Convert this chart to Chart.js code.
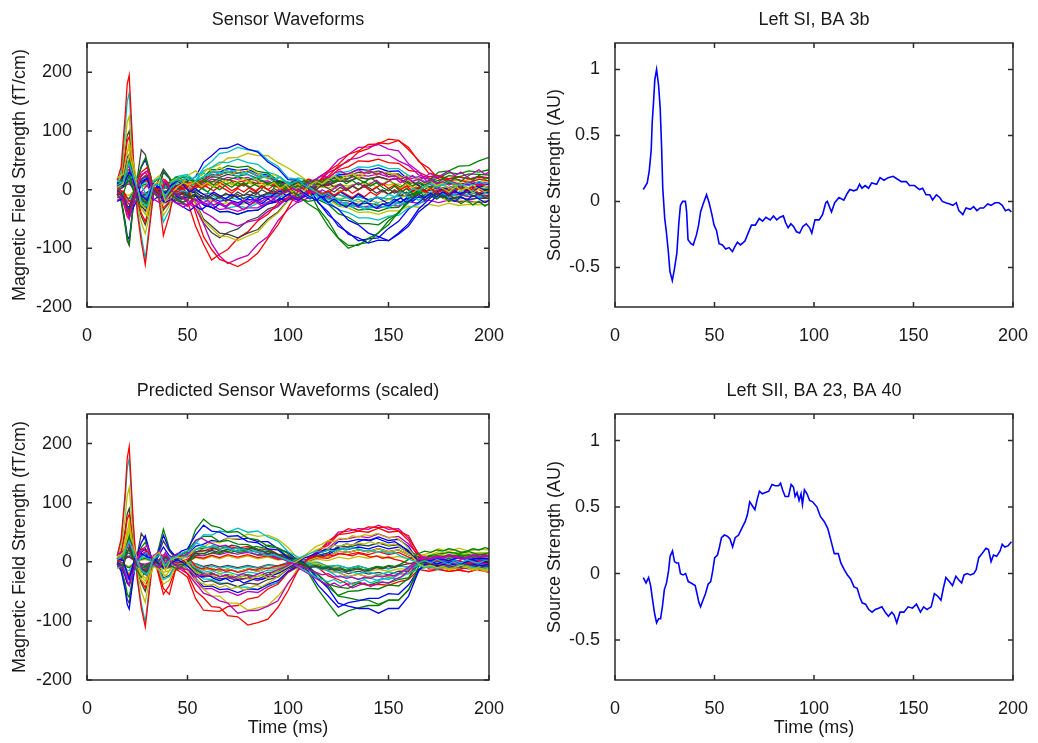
<!DOCTYPE html>
<html>
<head>
<meta charset="utf-8">
<script src="https://cdn.jsdelivr.net/npm/chart.js@4.4.1/dist/chart.umd.min.js"></script>
<style>
  body { margin: 0; background: #fff; }
  #page { position: relative; width: 1038px; height: 743px; }
  canvas { position: absolute; }
</style>
</head>
<body>
<div id="page">
  <canvas id="sensors" width="519" height="365" style="left:0;top:0"></canvas>
  <canvas id="sourceSI" width="519" height="365" style="left:519px;top:0"></canvas>
  <canvas id="predicted" width="519" height="378" style="left:0;top:365px"></canvas>
  <canvas id="sourceSII" width="519" height="378" style="left:519px;top:365px"></canvas>
</div>
<script>
// tick labels
const xTickValues = [0, 50, 100, 150, 200];
const fieldTicks = [-200, -100, 0, 100, 200];
const sourceTicks = [-0.5, 0, 0.5, 1];

// matlab line colour order
const lineColors = ['#0000ff', '#008000', '#ff0000', '#00bfbf', '#bf00bf', '#bfbf00', '#404040'];

// sample times (ms) for the large sensor traces
const sensorTimes = [15,17,19,20,21,23,25,27,29,31,33,35,38,41,44,47,50,54,58,62,66,70,75,80,85,90,95,100,105,110,115,120,125,130,135,140,145,150,155,160,165,170,175,180,185,190,195,200];
// sample times (ms) for the low-amplitude sensors in the central band
const bandTimes = [15,18,21,24,27,30,33,36,39,42,45,48,51,54,57,60,63,66,69,72,75,78,81,84,87,90,93,96,99,102,105,108,111,114,117,120,123,126,129,132,135,138,141,144,147,150,153,156,159,162,165,168,171,174,177,180,183,186,189,192,195,198,200];

// measured sensor waveforms (fT/cm)
const measuredWaves = [
  [5,12,39,55,60,18,-12,-27,-36,-21,-3,6,-21,-13,6,10,14,22,47,58,70,71,78,69,64,47,36,17,16,4,-21,-43,-57,-76,-82,-91,-86,-87,-74,-58,-33,-17,-1,3,10,8,12,9],
  [-7,-18,-58,-83,-92,-27,18,40,54,31,5,-8,31,20,-8,-14,-8,6,14,13,20,16,22,17,18,11,11,3,-10,-24,-35,-62,-83,-100,-93,-90,-73,-60,-38,-22,2,16,30,32,40,41,49,55],
  [16,39,127,180,195,58,-39,-88,-128,-68,-10,10,-78,-43,10,18,4,-39,-80,-102,-119,-124,-131,-122,-108,-83,-60,-31,-2,18,13,32,43,60,66,77,78,86,84,72,48,37,18,16,8,13,6,10],
  [12,30,105,150,165,50,-32,-78,-118,-60,-8,-4,-55,-35,-6,-2,-4,15,37,48,62,64,72,68,66,50,40,20,18,6,-6,-16,-18,-27,-26,-32,-28,-30,-23,-22,-12,-10,-2,-4,2,-3,4,0],
  [3,8,26,37,40,12,-8,-18,-24,-14,-2,-10,-14,-9,-8,-12,-22,-32,-58,-92,-113,-126,-118,-112,-93,-80,-53,-34,-20,-8,21,32,51,60,72,73,77,69,66,44,31,10,2,-8,-7,-12,-10,-10],
  [10,25,81,115,125,37,-25,-56,-75,-44,-6,8,-44,-27,10,16,8,-24,-53,-66,-79,-80,-87,-79,-72,-53,-40,-19,4,16,6,16,18,27,26,32,28,30,23,16,2,-8,-11,-20,-17,-22,-20,-18],
  [-8,-19,-62,-87,-95,-28,19,68,60,33,5,12,35,21,4,0,10,-22,-50,-62,-74,-76,-82,-74,-68,-50,-38,-18,-14,-4,7,8,15,14,21,18,22,17,19,11,11,3,4,-1,2,-2,3,0],
  [-7,-17,-55,-78,-85,-26,17,38,51,30,4,-6,30,19,-10,-16,-12,-10,-26,-30,-38,-37,-42,-36,-35,-24,-20,-8,-14,-6,-8,-24,-33,-52,-60,-74,-80,-87,-76,-62,-38,-24,-8,-4,5,3,6,5],
  [2,6,20,28,30,9,-6,-14,-18,-11,-2,4,-11,-7,16,20,22,14,22,34,34,41,38,40,31,28,16,12,14,2,-32,-53,-82,-95,-95,-83,-74,-53,-40,-16,-4,12,16,24,22,27,26,25],
  [7,18,58,83,90,27,-18,-40,-54,-31,-5,-12,-31,-20,-6,-4,-20,-62,-93,-120,-110,-102,-83,-72,-53,-42,-23,-14,10,14,14,23,40,48,64,70,80,78,84,68,50,28,24,16,17,12,18,15],
  [2,4,13,18,20,6,-4,-9,-12,-7,-1,6,-7,-4,18,22,24,13,32,38,47,46,52,46,43,30,24,10,16,8,-14,-20,-34,-39,-48,-48,-52,-45,-44,-31,-25,-13,-12,-6,-12,-7,-13,-10],
  [-3,-8,-26,-37,-40,-12,8,18,24,14,2,-6,14,9,-16,-20,-28,-16,-38,-46,-56,-56,-62,-55,-51,-37,-29,-13,-18,-8,13,29,37,51,54,62,58,59,49,41,25,20,11,13,8,12,7,10],
  [6,14,46,64,70,21,-14,-32,-42,-25,-4,0,-25,-15,8,12,16,12,20,37,43,54,55,62,58,58,46,37,26,14,-12,-16,-28,-31,-39,-38,-42,-36,-36,-28,-30,-25,-28,-23,-27,-25,-26,-25],
  [8,20,65,92,100,30,-20,-45,-60,-35,-5,0,-35,-22,-2,4,-6,-23,-57,-73,-82,-73,-67,-53,-47,-33,-27,-13,-16,-6,10,12,22,23,30,28,32,26,27,13,7,-7,-8,-15,-12,-17,-14,-15],
  [-2,-6,-20,-28,-30,-9,6,14,18,11,2,0,11,7,12,14,18,13,19,30,30,36,33,35,27,25,14,11,10,4,-22,-38,-62,-73,-87,-84,-82,-66,-54,-33,-22,-8,-8,-3,-6,-4,-7,-5],
  [4,10,33,46,50,15,-10,-23,-30,-18,-3,0,-18,-11,-18,-22,-26,-10,-26,-30,-38,-37,-42,-36,-35,-24,-20,-8,-14,-20,-17,-25,-41,-47,-58,-58,-60,-48,-40,-18,-4,14,20,29,27,32,30,34],
  [-4,-10,-33,-46,-50,-15,10,23,30,18,3,0,18,11,8,6,12,11,16,26,25,31,28,31,23,22,12,10,12,14,14,20,34,39,49,48,52,46,45,33,30,22,24,19,22,18,21,20],
  [-2,-4,-13,-18,-20,-6,4,9,12,7,1,0,7,4,-10,-12,-14,-11,-16,-26,-25,-31,-28,-31,-23,-22,-12,-10,-10,-4,12,16,28,31,39,38,42,36,36,24,20,10,10,4,7,3,6,5],
  [2,5,16,23,25,8,-5,-11,-15,-9,-1,0,-9,-6,-10,-22,-18,8,10,18,16,21,18,21,14,15,7,7,16,10,-10,-12,-22,-23,-30,-28,-32,-26,-28,-21,-23,-18,-22,-18,-21,-19,-22,-20],
  [-2,-5,-16,-23,-25,-8,5,11,15,9,1,0,9,6,-14,-16,-18,-6,-17,-18,-25,-22,-27,-22,-23,-14,-13,-4,-12,-10,-7,-7,-15,-14,-21,-18,-22,-17,-17,-6,-2,8,9,15,12,17,14,15],
  [1,3,10,14,15,5,-3,-7,-9,-5,-1,0,-5,-3,4,6,8,10,13,22,21,26,23,26,19,23,14,13,6,2,-8,-9,-18,-19,-25,-23,-27,-22,-23,-14,-13,-6,-8,-3,-7,-3,-6,-5],
  [3,8,26,37,40,12,-8,-18,-24,-14,-2,0,-14,-9,-4,-2,-6,-4,-14,-14,-20,-17,-22,-17,-18,-11,-11,-3,-10,-2,11,14,25,27,35,33,37,31,32,16,8,-7,-9,-16,-13,-17,-14,-15],
  [-1,-3,-10,-14,-15,-5,3,7,9,5,1,0,5,3,14,16,18,11,16,26,25,31,28,31,23,22,12,10,10,6,-11,-14,-25,-27,-35,-33,-37,-31,-30,-16,-8,5,6,11,8,12,9,10],
  [3,7,23,32,35,11,-7,-16,-21,-12,-2,0,-12,-8,-14,-16,-14,7,7,14,12,17,13,16,10,12,5,6,-12,-8,7,7,15,14,21,18,22,17,19,6,2,-8,-7,-12,-8,-12,-9,-10],
  [-3,-7,-23,-32,-35,-11,7,16,21,12,2,0,12,8,22,24,26,12,2,-10,-16,-13,-17,-12,-14,-8,-9,6,20,16,-2,-9,-8,-14,-12,-17,-13,-16,-11,-12,-5,-6,0,-3,2,-2,3,0],
  [1,2,7,9,10,3,-2,-5,-6,-4,-1,0,-4,-2,-22,-24,-28,-9,-23,-26,-34,-32,-37,-31,-31,-21,-18,-14,-22,-14,8,9,18,19,25,23,27,22,24,18,22,18,22,18,22,18,23,20],
  [-1,-2,-7,-9,-10,-3,2,5,6,4,1,0,4,2,8,6,10,5,4,10,7,12,8,12,6,9,3,5,6,4,5,3,9,6,11,8,12,8,10,1,0,-8,-6,-11,-8,-12,-8,-10],
  [2,4,13,18,20,6,-4,-9,-12,-7,-1,0,-7,-4,-6,-8,-10,-1,-8,-6,-11,-8,-12,-8,-12,-6,-7,-1,-8,-4,-2,-9,-8,-14,-12,-17,-13,-16,-10,-10,-2,-2,4,2,7,3,6,5]
];

// measured low-amplitude sensors (fT/cm)
const measuredBand = [
  [8,14,45,12,-20,-28,6,10,-12,4,12,18,22,15,20,26,24,30,27,33,29,25,31,24,20,26,18,22,14,10,16,8,2,-4,-10,-6,-14,-18,-12,-20,-16,-22,-18,-12,-16,-8,-12,-4,-8,2,-2,6,10,4,8,14,10,6,12,8,14,10,12],
  [-10,-16,-50,-8,25,32,-4,-12,14,-2,-8,-14,-20,-16,-24,-18,-26,-22,-28,-20,-25,-18,-22,-16,-20,-12,-15,-8,-4,2,-2,6,14,18,24,20,28,32,26,30,34,28,32,26,30,22,24,18,22,14,18,12,16,10,14,8,12,6,10,14,8,12,10],
  [4,10,60,20,-25,-35,8,14,-20,-6,5,12,8,14,6,12,4,10,16,8,14,20,12,18,10,6,12,2,8,-4,4,-2,8,14,10,18,24,16,22,28,20,26,32,24,30,22,28,18,24,14,20,10,16,6,12,2,8,-2,4,-6,2,-4,0],
  [-6,-12,-35,-5,18,24,-2,-8,10,-4,-10,-6,-14,-8,-16,-10,-18,-12,-20,-14,-8,-16,-10,-4,-12,-6,-2,-8,0,-6,4,-2,6,0,8,2,-4,4,-2,6,0,8,2,-6,0,-8,-2,-10,-4,-14,-8,-18,-12,-6,-14,-8,-16,-10,-4,-12,-6,-14,-10],
  [12,6,30,18,-10,-18,10,4,-6,8,14,8,-4,2,-6,-12,-4,-10,-16,-8,-14,-20,-12,-18,-10,-16,-8,-2,-10,-4,2,-6,-12,-18,-10,-22,-16,-24,-30,-22,-28,-20,-26,-32,-24,-28,-20,-14,-22,-16,-8,-14,-6,-12,-4,-10,-2,-8,0,-6,4,-2,2],
  [-14,-8,25,-12,-30,-20,-6,-14,-2,-10,-16,-22,-14,-6,2,-4,6,0,8,14,6,12,4,10,16,8,14,6,0,8,2,10,16,8,14,20,12,18,10,16,8,14,6,12,4,-2,6,-4,2,-8,-2,-12,-6,-16,-10,-20,-14,-24,-18,-26,-20,-28,-24],
  [2,-4,-40,6,30,38,4,-6,16,2,-4,4,-2,8,2,10,4,12,6,-2,4,10,2,-4,6,0,-6,2,-2,4,-4,2,-6,0,-8,-2,-10,-4,2,-6,0,6,-2,4,10,2,8,0,6,-2,4,-4,2,-6,0,-8,-2,4,-4,2,-6,0,-2],
  [16,10,20,24,6,-10,14,20,4,12,18,24,16,22,30,24,32,26,34,28,22,30,24,18,26,20,14,22,12,6,0,-6,-14,-8,-18,-24,-16,-28,-22,-30,-26,-34,-28,-22,-30,-24,-18,-26,-20,-12,-18,-10,-4,-12,-6,-14,-8,-2,-10,-4,-12,-6,-8],
  [-18,-12,-25,-22,-4,8,-16,-22,-10,-18,-24,-30,-22,-28,-20,-26,-18,-24,-30,-22,-28,-34,-26,-20,-28,-22,-16,-24,-18,-10,-16,-8,-2,-8,0,-6,2,8,0,6,12,4,10,16,8,14,20,12,18,24,16,22,28,20,26,32,24,30,22,28,34,26,30],
  [20,26,80,30,-30,-45,16,24,-8,14,20,14,26,32,24,36,30,38,32,26,34,28,36,30,24,18,26,20,12,4,10,2,-6,0,-8,-2,4,-4,2,8,0,6,12,4,10,16,8,2,10,4,-2,6,0,8,2,-4,4,10,2,8,0,6,4],
  [-2,4,15,-8,-14,-4,2,-6,4,-4,-10,-4,-12,-18,-10,-16,-8,-14,-6,-12,-4,-10,-2,-8,0,-6,2,-4,4,-2,6,0,8,14,6,12,4,10,2,8,0,6,-2,4,-4,2,-6,0,-8,-2,4,-4,2,-6,0,-8,-2,6,0,-4,4,-2,0],
  [-20,-14,-45,-24,10,20,-18,-10,-22,-16,-24,-30,-36,-28,-34,-26,-32,-24,-30,-22,-28,-20,-26,-18,-24,-16,-22,-14,-20,-12,-18,-10,-16,-8,-14,-6,-12,-4,-10,-16,-8,-14,-20,-12,-18,-24,-16,-22,-14,-20,-12,-18,-10,-16,-8,-14,-20,-12,-18,-10,-16,-22,-18],
  [10,18,50,22,-15,-25,12,20,4,16,22,10,18,12,20,14,8,16,10,4,12,6,14,8,2,10,4,12,6,14,8,16,10,18,12,20,14,22,16,24,18,12,20,14,8,16,10,4,12,6,14,8,16,10,18,12,20,14,22,16,24,18,20],
  [-8,-2,-20,-14,12,16,-6,2,-10,-2,6,0,8,2,10,4,-2,6,0,-6,2,-4,4,-2,6,0,8,2,-4,4,-2,-8,0,-6,-12,-4,-10,-2,-8,-14,-6,-12,-4,-10,-2,-8,0,-6,2,-4,4,-2,-8,0,-6,2,-4,4,-2,6,0,-4,-2]
];

// predicted sensor waveforms (scaled)
const predictedWaves = [
  [-4,-16,-48,-72,-80,-28,12,32,44,20,-4,10,45,20,10,18,22,45,62,52,50,43,44,34,32,22,20,7,5,-8,-28,-45,-70,-75,-79,-79,-87,-79,-79,-58,-15,2,5,2,7,4,6,5],
  [-3,-12,-36,-54,-60,-21,9,24,33,15,-3,14,55,22,8,12,16,54,72,61,58,50,51,40,37,26,23,8,5,-18,-47,-70,-92,-83,-78,-74,-74,-65,-65,-48,-8,9,10,8,12,9,13,10],
  [10,39,117,175,195,68,-29,-78,-110,-50,8,-12,-45,-55,-14,-10,-20,-49,-61,-76,-77,-91,-93,-107,-103,-97,-77,-49,-14,6,16,35,46,56,52,59,58,59,52,44,12,-4,-12,-7,-13,-9,-14,-18],
  [9,35,105,158,175,61,-26,-70,-103,-44,9,-8,-30,-25,-4,6,10,31,46,45,52,50,57,50,52,42,35,17,8,-2,-8,-9,-18,-16,-20,-17,-22,-17,-20,-12,-6,1,-2,3,-3,2,-1,0],
  [2,6,18,27,30,11,-5,-12,-17,-8,2,-6,-9,-8,-8,-14,-20,-36,-53,-58,-66,-70,-87,-83,-82,-75,-66,-36,-15,4,20,31,50,52,56,55,62,55,56,40,14,1,2,-1,2,-3,2,0],
  [6,25,75,112,125,44,-19,-50,-69,-31,6,-10,-38,-31,-10,-6,-14,-38,-46,-58,-58,-70,-70,-82,-78,-74,-58,-38,-10,2,8,9,18,16,20,17,22,17,20,12,11,7,12,8,13,8,11,10],
  [-4,-14,-42,-63,-70,-25,11,48,38,18,-4,8,35,18,6,4,-6,-22,-34,-32,-38,-36,-42,-36,-38,-30,-26,-12,-6,3,11,15,26,25,29,27,32,27,29,19,8,0,2,-1,2,-3,2,0],
  [-2,-8,-24,-36,-40,-14,6,16,22,10,-2,6,25,10,4,-8,-14,-28,-42,-41,-47,-46,-52,-46,-47,-38,-32,-16,-7,-15,-40,-58,-77,-69,-66,-62,-62,-54,-55,-39,-13,-3,-7,-2,-8,-3,-6,-5],
  [1,4,12,18,20,7,-3,-8,-11,-5,1,4,-6,-5,6,14,18,36,43,43,34,36,30,29,21,20,12,9,0,-7,-23,-37,-58,-61,-65,-65,-72,-65,-65,-47,-16,10,13,16,14,17,12,15],
  [4,16,48,72,80,28,-12,-32,-44,-20,4,-14,-55,-40,-12,-18,-26,-62,-82,-83,-84,-76,-74,-63,-60,-46,-38,-18,-8,5,19,28,46,48,52,50,57,50,52,36,7,-12,-13,-16,-14,-17,-12,-15],
  [1,4,12,18,20,7,-3,-8,-11,-5,1,0,-6,-5,-4,-6,-8,-18,-29,-30,-36,-36,-43,-43,-47,-39,-36,-18,-9,-3,-11,-15,-26,-25,-29,-27,-32,-27,-29,-19,-13,-8,-12,-7,-13,-8,-11,-10],
  [-2,-6,-18,-27,-30,-11,5,12,17,8,-2,0,9,8,6,-4,-12,-31,-46,-45,-52,-50,-57,-50,-52,-42,-35,-17,-8,5,16,23,38,39,43,41,47,41,43,30,11,3,7,2,8,3,6,5],
  [3,12,36,54,60,21,-9,-24,-33,-15,3,0,-18,-15,2,8,10,22,25,34,32,40,39,47,43,45,38,24,5,1,-6,-16,-18,-25,-21,-26,-23,-26,-21,-20,10,14,22,17,23,18,21,20],
  [5,18,54,81,90,32,-14,-36,-50,-23,5,0,-27,-23,-6,-2,-4,-16,-26,-24,-29,-27,-32,-27,-29,-22,-20,-9,-5,2,8,9,18,16,20,17,22,17,20,12,6,-1,2,-1,1,-2,3,0],
  [-1,-5,-15,-23,-25,-9,4,10,14,6,-1,0,8,6,4,8,12,26,30,36,34,40,38,40,34,34,22,16,2,4,14,20,34,34,38,36,42,36,38,26,0,-10,-8,-11,-9,-12,-7,-10],
  [2,8,24,36,40,14,-6,-16,-22,-10,2,0,-12,-10,-6,-8,-4,-13,-22,-19,-25,-22,-27,-22,-25,-18,-17,-7,-5,-11,-30,-42,-57,-50,-49,-45,-46,-39,-41,-28,-4,10,8,11,9,12,7,10],
  [-2,-8,-24,-36,-40,-14,6,16,22,10,-2,0,12,10,6,10,8,17,18,23,21,26,23,26,21,22,13,11,1,-4,-10,-24,-30,-38,-34,-40,-38,-40,-34,-30,-13,-16,-13,-16,-14,-17,-12,-15],
  [-1,-3,-9,-14,-15,-5,2,6,8,4,-1,0,5,4,0,-4,-6,-10,-18,-15,-20,-17,-22,-17,-20,-14,-14,-5,-4,3,11,15,26,25,29,27,32,27,29,19,10,3,7,2,8,3,6,5],
  [1,4,12,18,20,7,-3,-8,-11,-5,1,0,-6,-5,-1,0,0,11,10,15,12,16,13,16,12,14,7,7,0,-3,-6,-16,-18,-25,-21,-26,-23,-26,-21,-20,-4,-7,-3,-6,-4,-7,-2,-5],
  [-1,-4,-12,-18,-20,-7,3,8,11,5,-1,0,6,5,1,0,0,-7,-14,-11,-16,-12,-17,-12,-16,-10,-11,-3,-4,-2,-3,-10,-10,-16,-12,-16,-13,-16,-12,-12,10,11,17,12,18,13,16,15],
  [1,2,6,9,10,4,-2,-4,-6,-3,1,0,-3,-3,-1,0,1,14,14,19,16,21,18,21,16,18,10,9,0,-2,-4,-13,-14,-20,-16,-21,-18,-22,-16,-16,-2,-3,2,-1,1,-2,3,0],
  [2,6,18,27,30,11,-5,-12,-17,-8,2,0,-9,-8,-2,0,-1,-7,-14,-11,-16,-12,-17,-12,-16,-10,-11,-3,-4,3,10,12,22,21,25,22,27,22,25,16,9,3,7,2,8,3,6,5],
  [-1,-2,-6,-9,-10,-4,2,4,6,3,-1,0,3,3,1,0,1,21,23,25,18,21,16,17,11,12,6,6,-1,-9,-21,-38,-43,-45,-36,-40,-34,-36,-30,-27,4,5,10,5,11,6,9,8],
  [1,5,15,23,25,9,-4,-10,-14,-6,1,0,-8,-6,-1,0,0,8,6,11,7,12,8,12,7,10,4,6,-1,2,7,6,14,12,16,12,17,12,16,8,0,-6,-3,-6,-4,-7,-2,-5],
  [-1,-5,-15,-23,-25,-9,4,10,14,6,-1,0,8,6,1,0,0,-4,-10,-7,-11,-8,-12,-8,-11,-6,-8,-2,-3,-1,-1,-8,-6,-11,-7,-12,-8,-12,-7,-9,3,0,5,1,6,1,4,3],
  [0,2,5,7,8,3,-1,-3,-4,-2,0,0,-2,-2,0,0,-1,-12,-20,-19,-25,-24,-29,-28,-32,-25,-25,-12,-7,2,8,9,18,16,20,17,22,17,20,12,4,-4,-1,-4,-2,-5,0,-3],
  [0,-2,-5,-7,-8,-3,1,3,4,2,0,0,2,2,0,0,0,7,4,9,5,10,6,10,5,8,3,5,-1,1,4,2,8,5,9,6,10,6,9,4,10,9,14,9,15,10,13,12],
  [1,3,9,14,15,5,-2,-6,-8,-4,1,0,-5,-4,-1,0,0,-3,-8,-5,-9,-6,-10,-6,-10,-5,-7,-1,-3,-1,-1,-8,-6,-11,-7,-12,-8,-12,-7,-9,-4,-9,-6,-9,-7,-10,-5,-8]
];

// predicted low-amplitude sensors
const predictedBand = [
  [4,10,35,8,-15,-22,4,12,-6,6,10,16,20,32,28,24,26,22,24,20,18,22,16,18,14,10,12,8,4,0,6,10,14,18,16,20,18,22,20,24,22,18,20,16,18,14,16,10,6,2,-2,2,-2,4,0,-4,2,-2,4,0,-2,2,0],
  [-6,-12,-40,-6,20,28,-4,-10,16,-2,-8,-12,-14,-26,-22,-24,-20,-26,-22,-28,-24,-20,-26,-22,-18,-22,-16,-12,-8,-2,-6,-10,-14,-18,-22,-20,-26,-24,-28,-26,-30,-26,-28,-24,-26,-22,-24,-18,-12,-4,4,8,6,10,8,12,10,6,8,12,10,8,10],
  [8,14,55,18,-22,-30,8,16,-14,4,8,6,-6,-18,-22,-20,-24,-20,-26,-22,-28,-24,-30,-26,-22,-28,-20,-16,-10,-4,2,8,14,20,24,22,28,26,30,28,32,30,34,30,32,28,30,24,16,8,-4,-8,-6,-10,-8,-12,-10,-6,-8,-12,-10,-14,-12],
  [-4,-8,25,-4,-12,-16,2,-6,8,-2,-6,-4,4,16,20,18,22,26,24,28,26,22,24,20,18,14,16,10,6,2,-2,-6,-10,-8,-12,-10,-14,-12,-16,-14,-12,-16,-14,-10,-12,-8,-10,-6,-4,-2,2,-2,-6,-4,-8,-6,-10,-8,-4,-6,-10,-8,-6],
  [6,2,-30,10,14,8,6,-4,-12,-2,4,-2,-10,-20,-26,-22,-28,-32,-28,-34,-30,-36,-32,-28,-30,-26,-22,-18,-12,-6,0,6,10,14,18,22,20,26,30,28,34,38,36,40,36,32,34,28,20,10,2,-2,2,-4,0,-2,2,-4,0,4,-2,0,-2],
  [-8,-4,45,-10,-26,-14,-4,-10,-4,-8,-12,-6,2,10,14,12,16,14,18,16,20,18,22,26,24,28,26,22,16,8,2,-4,-8,-6,-10,-8,-12,-10,-14,-12,-10,-14,-12,-8,-10,-6,-8,-4,2,8,14,18,16,20,18,22,20,16,18,22,20,24,22],
  [2,-2,-25,4,22,18,2,-4,10,2,-2,2,6,-8,-12,-10,-14,-12,-16,-14,-18,-16,-12,-14,-10,-12,-8,-6,-4,0,4,8,6,10,8,12,10,14,12,10,14,12,8,10,6,8,4,2,-2,-4,-2,0,-2,2,0,-2,2,0,-2,2,0,-2,0],
  [-10,-6,-30,-14,8,16,-8,-2,14,6,-2,-6,-4,20,26,24,28,22,26,20,24,18,22,16,20,14,12,8,4,-2,-8,-14,-20,-26,-30,-34,-30,-36,-32,-38,-34,-30,-36,-32,-28,-30,-26,-20,-12,-4,-6,-10,-8,-12,-10,-6,-8,-4,-6,-10,-8,-12,-10],
  [12,18,40,20,-10,-24,10,18,-2,8,14,10,16,36,40,34,30,26,28,22,24,20,16,18,12,14,8,6,2,-4,-10,-16,-22,-28,-34,-40,-36,-42,-38,-44,-40,-36,-42,-38,-34,-36,-30,-26,-18,-8,2,6,4,8,6,10,8,4,6,10,8,12,10],
  [-12,-6,70,-8,-30,-40,-8,-14,-24,-12,-6,-2,-8,-30,-36,-40,-38,-44,-40,-46,-42,-48,-44,-40,-42,-36,-30,-22,-14,-6,2,10,18,26,30,36,34,40,38,44,42,46,44,48,44,40,42,36,26,14,-4,-10,-8,-12,-10,-14,-12,-8,-10,-14,-12,-16,-14]
];

// Left SI, BA 3b source waveform
const siTimes = [14.2,16.2,17.2,18.2,18.7,19.4,20,20.9,21.9,22.7,23.4,24,25,25.8,26.8,27.6,28.8,29.9,31.1,32.1,32.9,34,35.4,36,36.7,38.2,39.3,41,42,43,44.3,46,47.3,48.7,49.8,51,52.3,54,55.6,57.3,59,60.3,61.5,63.1,65.3,66.9,68.6,70.5,72.5,74.2,75.8,78,79.6,81.3,82.9,84.6,85.7,87,88.4,89.7,91.2,92.8,94.4,96.1,97.8,98.9,100.5,102.6,104.3,105.9,106.7,108.8,110.4,112.6,115,116.7,118,120,121.6,122.9,124.1,125.7,127.4,129,131.5,133.2,135.2,137.3,139.8,141.8,143.9,146.4,148,150.5,153,154.6,156.3,158.2,159.6,161.5,163.2,164.5,166.2,168.2,169.8,171.5,172.8,174.8,176.4,178.6,180.2,181.9,183.5,185.2,187.3,189,191,192.9,194.6,196.2,197.9,199.2];
const siValues = [0.09,0.14,0.23,0.39,0.6,0.76,0.92,1.0,0.88,0.71,0.42,0.10,-0.13,-0.23,-0.38,-0.53,-0.60,-0.51,-0.39,-0.16,-0.03,0.0,0.0,-0.08,-0.29,-0.32,-0.33,-0.25,-0.18,-0.08,-0.02,0.05,-0.01,-0.10,-0.18,-0.22,-0.32,-0.33,-0.36,-0.35,-0.38,-0.34,-0.31,-0.33,-0.30,-0.24,-0.18,-0.18,-0.13,-0.15,-0.12,-0.14,-0.11,-0.14,-0.12,-0.11,-0.16,-0.20,-0.17,-0.19,-0.23,-0.24,-0.19,-0.17,-0.20,-0.24,-0.14,-0.14,-0.10,-0.01,0.0,-0.08,-0.01,0.03,0.01,0.06,0.09,0.08,0.09,0.13,0.10,0.12,0.10,0.14,0.13,0.18,0.16,0.18,0.19,0.17,0.15,0.15,0.12,0.12,0.09,0.10,0.05,0.05,0.01,0.05,0.03,0.0,-0.01,-0.02,-0.03,-0.01,-0.07,-0.10,-0.05,-0.06,-0.04,-0.07,-0.05,-0.05,-0.02,-0.03,-0.01,-0.01,-0.03,-0.07,-0.06,-0.08];

// Left SII, BA 23, BA 40 source waveform
const siiTimes = [14.2,15.6,16.9,17.9,18.9,19.9,20.9,21.9,22.9,23.9,24.8,25.9,26.9,27.7,28.9,29.9,30.9,31.9,32.9,34.2,35.5,36.8,38.2,39.2,40.3,41.2,42.2,43,44.2,45.5,46.8,48.1,49.1,50.1,51.5,52.5,53.5,55,56.6,57.8,59.1,60.4,62.1,63.7,65.4,66.5,67.7,69,70.3,71.5,72.6,74,75.6,77.3,78.9,80.5,82.2,83.2,84.2,85.5,87.2,88.5,89.7,90.5,91.5,92.5,93.5,94.2,95.2,96.5,97.8,99.3,101.5,103.2,105.2,106.9,108.5,110.2,112.2,113.5,115.2,116.8,118.4,120.1,121.7,123.1,124.2,125.9,127.5,129.2,130.8,132.5,134.1,135.8,137.4,139.1,140.2,141.6,143.2,145.2,147.3,149.5,151.5,153.5,155.1,156.8,158.9,160.5,162.2,163.8,165,166.3,168,169.6,171.3,172.9,174.2,175.4,177,178.6,180.3,181.5,182.8,184.4,186.4,187.7,189,190.2,191.8,193.5,194.6,195.9,197.6,199.2];
const siiValues = [-0.03,-0.07,-0.03,-0.09,-0.20,-0.30,-0.37,-0.34,-0.34,-0.24,-0.12,-0.07,0.02,0.13,0.17,0.09,0.08,0.08,0.0,-0.01,0.0,-0.06,-0.07,-0.08,-0.09,-0.15,-0.22,-0.25,-0.20,-0.15,-0.08,-0.06,0.02,0.12,0.14,0.20,0.27,0.29,0.28,0.26,0.20,0.27,0.29,0.34,0.39,0.44,0.54,0.51,0.48,0.56,0.62,0.60,0.61,0.62,0.67,0.66,0.66,0.68,0.63,0.58,0.58,0.67,0.65,0.58,0.61,0.55,0.60,0.52,0.63,0.60,0.55,0.54,0.50,0.43,0.39,0.34,0.25,0.15,0.15,0.08,0.03,-0.01,-0.04,-0.10,-0.11,-0.18,-0.22,-0.23,-0.27,-0.29,-0.27,-0.26,-0.25,-0.29,-0.32,-0.29,-0.31,-0.37,-0.29,-0.29,-0.25,-0.26,-0.23,-0.29,-0.25,-0.27,-0.25,-0.15,-0.17,-0.20,-0.11,-0.03,-0.06,-0.09,-0.02,-0.05,-0.07,-0.01,0.0,-0.01,0.0,0.03,0.12,0.15,0.19,0.18,0.09,0.14,0.13,0.17,0.22,0.20,0.21,0.24];

const ink = '#1a1a1a';
const font = { family: '"Liberation Sans", Arial, sans-serif', size: 18, weight: 'normal' };

// closed axes box with inward ticks, like matlab
const boxPlugin = {
  id: 'matlabBox',
  afterDatasetsDraw(chart) {
    const { ctx, chartArea: a, scales: { x, y } } = chart;
    ctx.save();
    ctx.strokeStyle = '#2b2b2b';
    ctx.lineWidth = 1.5;
    ctx.strokeRect(a.left, a.top, a.right - a.left, a.bottom - a.top);
    ctx.beginPath();
    x.ticks.forEach(t => {
      const px = x.getPixelForValue(t.value);
      ctx.moveTo(px, a.bottom); ctx.lineTo(px, a.bottom - 5);
      ctx.moveTo(px, a.top); ctx.lineTo(px, a.top + 5);
    });
    y.ticks.forEach(t => {
      const py = y.getPixelForValue(t.value);
      ctx.moveTo(a.left, py); ctx.lineTo(a.left + 5, py);
      ctx.moveTo(a.right, py); ctx.lineTo(a.right - 5, py);
    });
    ctx.stroke();
    ctx.restore();
  }
};

function traceData(times, values) {
  return values.map((v, i) => ({ x: times[i], y: v }));
}

// band sensors first, large ones drawn over them
function sensorSets(band, rows) {
  const sets = band.map((row, i) => ({
    data: traceData(bandTimes, row),
    borderColor: lineColors[(i + 3) % lineColors.length],
    borderWidth: 1.3
  }));
  rows.forEach((row, i) => sets.push({
    data: traceData(sensorTimes, row),
    borderColor: lineColors[i % lineColors.length],
    borderWidth: 1.3
  }));
  return sets;
}

function sourceSet(times, values) {
  return [{ data: traceData(times, values), borderColor: '#0000ff', borderWidth: 1.6 }];
}

function panel(id, cfg) {
  new Chart(document.getElementById(id), {
    type: 'line',
    data: { datasets: cfg.datasets },
    options: {
      responsive: false,
      animation: false,
      events: [],
      layout: { padding: { left: 0, right: cfg.padRight, top: 0, bottom: 0 } },
      elements: { point: { radius: 0 }, line: { tension: 0 } },
      plugins: {
        legend: { display: false },
        tooltip: { enabled: false },
        title: {
          display: true, text: cfg.title, fullSize: false, color: ink, font: font,
          padding: { top: cfg.titleTop, bottom: 12.2 }
        }
      },
      scales: {
        x: {
          type: 'linear', min: 0, max: 200,
          grid: { display: false }, border: { display: false },
          afterBuildTicks: s => { s.ticks = xTickValues.map(v => ({ value: v })); },
          afterFit: s => { s.height = cfg.xHeight; },
          ticks: { font: font, color: ink, padding: 10, maxRotation: 0, callback: v => String(v) },
          title: { display: !!cfg.xTitle, text: cfg.xTitle || '', font: font, color: ink, padding: { top: 0, bottom: 4 } }
        },
        y: {
          type: 'linear', min: cfg.yMin, max: cfg.yMax,
          grid: { display: false }, border: { display: false },
          afterBuildTicks: s => { s.ticks = cfg.yTicks.map(v => ({ value: v })); },
          afterFit: s => { s.width = cfg.yWidth; },
          ticks: { font: font, color: ink, padding: 7, callback: v => String(v) },
          title: { display: true, text: cfg.yTitle, font: font, color: ink, padding: { top: cfg.yTitlePad, bottom: 0 } }
        }
      }
    },
    plugins: [boxPlugin]
  });
}

panel('sensors', {
  datasets: sensorSets(measuredBand, measuredWaves), title: 'Sensor Waveforms', titleTop: 9.2,
  padRight: 30, xHeight: 58, yWidth: 87, yMin: -200, yMax: 250, yTicks: fieldTicks,
  yTitle: 'Magnetic Field Strength (fT/cm)', yTitlePad: 9
});
panel('sourceSI', {
  datasets: sourceSet(siTimes, siValues), title: 'Left SI, BA 3b', titleTop: 9.2,
  padRight: 20, xHeight: 58, yWidth: 96, yMin: -0.8, yMax: 1.2, yTicks: sourceTicks,
  yTitle: 'Source Strength (AU)', yTitlePad: 25
});
panel('predicted', {
  datasets: sensorSets(predictedBand, predictedWaves), title: 'Predicted Sensor Waveforms (scaled)', titleTop: 15.2,
  padRight: 30, xHeight: 63, yWidth: 87, yMin: -200, yMax: 250, yTicks: fieldTicks,
  yTitle: 'Magnetic Field Strength (fT/cm)', yTitlePad: 9, xTitle: 'Time (ms)'
});
panel('sourceSII', {
  datasets: sourceSet(siiTimes, siiValues), title: 'Left SII, BA 23, BA 40', titleTop: 15.2,
  padRight: 20, xHeight: 63, yWidth: 96, yMin: -0.8, yMax: 1.2, yTicks: sourceTicks,
  yTitle: 'Source Strength (AU)', yTitlePad: 25, xTitle: 'Time (ms)'
});
</script>
</body>
</html>
